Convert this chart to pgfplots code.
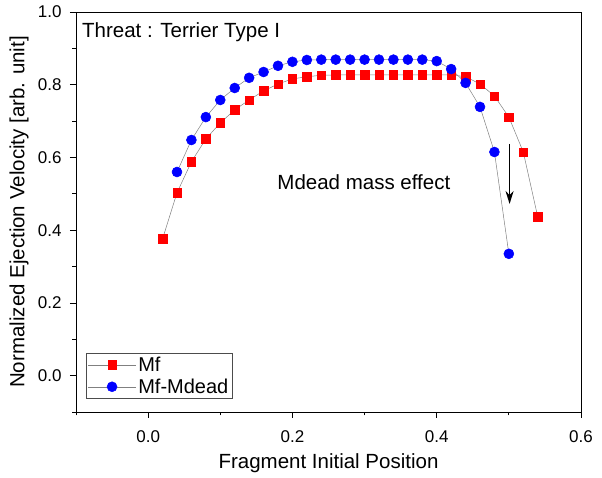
\documentclass[border=0pt]{standalone}
\usepackage{fontspec}
\setmainfont{Liberation Sans}
\usepackage{pgfplots}
\pgfplotsset{compat=1.18}
\usetikzlibrary{arrows.meta}
\begin{document}
\begin{tikzpicture}
\path[use as bounding box] (-76pt,-66pt) rectangle (526pt,412pt);
\begin{axis}[
 at={(0,0)}, anchor=south west,
 scale only axis, width=505pt, height=400pt,
 xmin=-0.1, xmax=0.6, ymin=-0.1, ymax=1.0,
 xtick={0,0.2,0.4,0.6}, minor xtick={-0.1,0.1,0.3,0.5},
 ytick={0,0.2,0.4,0.6,0.8,1.0}, minor ytick={-0.1,0.1,0.3,0.5,0.7,0.9},
 tick align=outside, tick pos=left,
 major tick length=6pt, minor tick length=3.5pt,
 every tick/.style={black, line width=0.8pt},
 axis line style={line width=0.9pt, black},
 xticklabel style={/pgf/number format/.cd, fixed, fixed zerofill, precision=1, assume math mode=true, /tikz/.cd, yshift=-9pt},
 yticklabel style={/pgf/number format/.cd, fixed, fixed zerofill, precision=1, assume math mode=true, /tikz/.cd, xshift=-5pt},
 ticklabel style={font=\fontsize{17}{20}\selectfont},
 xlabel={Fragment Initial Position},
 ylabel={Normalized Ejection Velocity [arb. unit]},
 every axis x label/.style={at={(axis description cs:0.5,0)}, anchor=center, yshift=-51pt, font=\fontsize{20.5}{24}\selectfont},
 every axis y label/.style={at={(axis description cs:0,0.5)}, anchor=center, xshift=-57pt, rotate=90, font=\fontsize{20.5}{24}\selectfont},
 legend style={at={(axis description cs:0.0198,0.1475)}, anchor=north west, draw=black!70, line width=0.6pt, font=\fontsize{20}{24}\selectfont, inner sep=1.5pt, row sep=2pt, cells={anchor=west}},
 legend image code/.code={\draw[mark repeat=2,mark phase=2,#1] plot coordinates {(-4pt,0pt) (20pt,0pt) (44pt,0pt)};},
]
\addplot[gray, line width=0.5pt, mark=square*, mark size=4.2pt, mark options={fill=red, draw=red, solid}] coordinates {
(0.02,0.376) (0.04,0.503) (0.06,0.588) (0.08,0.651) (0.10,0.695) (0.12,0.731)
(0.14,0.758) (0.16,0.783) (0.18,0.802) (0.20,0.816) (0.22,0.822) (0.24,0.826)
(0.26,0.827) (0.28,0.827) (0.30,0.827) (0.32,0.827) (0.34,0.827) (0.36,0.827)
(0.38,0.827) (0.40,0.827) (0.42,0.827) (0.44,0.822) (0.46,0.802) (0.48,0.769)
(0.50,0.711) (0.52,0.615) (0.54,0.437)
};
\addlegendentry{Mf}
\addplot[gray, line width=0.5pt, mark=*, mark size=5pt, mark options={fill=blue, draw=blue, solid}] coordinates {
(0.04,0.560) (0.06,0.648) (0.08,0.711) (0.10,0.758) (0.12,0.791) (0.14,0.819)
(0.16,0.835) (0.18,0.852) (0.20,0.863) (0.22,0.868) (0.24,0.869) (0.26,0.869)
(0.28,0.869) (0.30,0.869) (0.32,0.869) (0.34,0.869) (0.36,0.869) (0.38,0.869)
(0.40,0.865) (0.42,0.843) (0.44,0.805) (0.46,0.739) (0.48,0.615) (0.50,0.335)
};
\addlegendentry{Mf-Mdead}
\draw[-{Stealth[length=13pt,width=8pt]}, line width=1.8pt, black] (axis cs:0.501,0.637) -- (axis cs:0.501,0.472);
\node[anchor=base west, inner sep=0pt, font=\fontsize{20.5}{24}\selectfont] at (axis cs:-0.0917,0.931) {Threat : Terrier Type I};
\node[anchor=base west, inner sep=0pt, font=\fontsize{20.5}{24}\selectfont] at (axis cs:0.179,0.511) {Mdead mass effect};
\end{axis}
\end{tikzpicture}
\end{document}
